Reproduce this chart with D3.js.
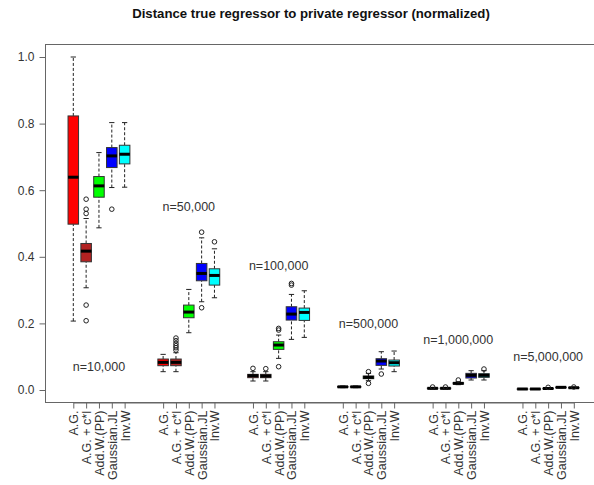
<!DOCTYPE html>
<html>
<head>
<meta charset="utf-8">
<script src="https://cdn.jsdelivr.net/npm/d3@7"></script>
<style>
  body { margin: 0; background: #fff; }
  svg { display: block; font-family: "Liberation Sans", Arial, sans-serif; }
</style>
</head>
<body>
<svg id="chart" width="594" height="485"></svg>
<script>
const methods = ['A.G.', 'A.G. + c*I', 'Add.W.(PP)', 'Gaussian.JL', 'Inv.W'];
const boxColors = ['#ff0000', '#b22222', '#00ff00', '#0000ff', '#00ffff'];
const sampleLabels = ['n=10,000', 'n=50,000', 'n=100,000', 'n=500,000', 'n=1,000,000', 'n=5,000,000'];
const labelValues = [0.07, 0.55, 0.375, 0.2, 0.15, 0.1];
const yTicks = [0, 0.2, 0.4, 0.6, 0.8, 1.0];

// [lower whisker, q1, median, q3, upper whisker] per method
const stats10k = [
  [0.207, 0.498, 0.639, 0.823, 1.0],
  [0.307, 0.385, 0.417, 0.44, 0.515],
  [0.487, 0.579, 0.613, 0.641, 0.713],
  [0.608, 0.668, 0.703, 0.728, 0.803],
  [0.609, 0.679, 0.708, 0.735, 0.803]
];
const outliers10k = [[], [0.573, 0.543, 0.53, 0.255, 0.208], [], [0.543], []];

const stats50k = [
  [0.055, 0.073, 0.083, 0.093, 0.107],
  [0.055, 0.073, 0.083, 0.093, 0.112],
  [0.172, 0.217, 0.234, 0.255, 0.302],
  [0.265, 0.328, 0.35, 0.38, 0.457],
  [0.277, 0.315, 0.344, 0.364, 0.424]
];
const outliers50k = [[], [0.12, 0.127, 0.133, 0.14, 0.148, 0.156], [], [0.474, 0.247], [0.445]];

const stats100k = [
  [0.027, 0.037, 0.043, 0.047, 0.055],
  [0.027, 0.037, 0.042, 0.047, 0.055],
  [0.095, 0.122, 0.135, 0.145, 0.165],
  [0.152, 0.21, 0.228, 0.25, 0.287],
  [0.158, 0.209, 0.233, 0.246, 0.298]
];
const outliers100k = [[0.065], [0.064], [0.18, 0.185, 0.07], [0.315, 0.32], []];

const stats500k = [
  [0.007, 0.0085, 0.0095, 0.0105, 0.012],
  [0.007, 0.0085, 0.0095, 0.0105, 0.012],
  [0.028, 0.034, 0.038, 0.042, 0.05],
  [0.063, 0.074, 0.087, 0.094, 0.115],
  [0.055, 0.072, 0.082, 0.09, 0.117]
];
const outliers500k = [[], [], [0.055, 0.02], [0.048], []];

const stats1m = [
  [0.003, 0.004, 0.005, 0.006, 0.007],
  [0.003, 0.004, 0.005, 0.006, 0.007],
  [0.016, 0.018, 0.02, 0.022, 0.025],
  [0.03, 0.036, 0.044, 0.05, 0.058],
  [0.03, 0.038, 0.044, 0.049, 0.058]
];
const outliers1m = [[0.009], [0.009], [0.03], [], [0.063]];

const stats5m = [
  [0.002, 0.0025, 0.003, 0.0035, 0.004],
  [0.002, 0.0025, 0.003, 0.0035, 0.004],
  [0.003, 0.004, 0.0045, 0.005, 0.006],
  [0.0065, 0.0075, 0.008, 0.0085, 0.009],
  [0.005, 0.006, 0.0068, 0.0075, 0.0085]
];
const outliers5m = [[], [], [0.008], [], [0.009]];

const groupStats = [stats10k, stats50k, stats100k, stats500k, stats1m, stats5m];
const groupOutliers = [outliers10k, outliers50k, outliers100k, outliers500k, outliers1m, outliers5m];

const svg = d3.select('#chart');
const plot = { left: 45, right: 594, top: 44, bottom: 402 };

// positions 1..5, 8..12, ... like boxplot(at=)
const positions = [];
groupStats.forEach((g, gi) => g.forEach((_, i) => positions.push(gi * 7 + i + 1)));

const x = d3.scaleLinear().domain([1, 40]).range([73.3, 573.8]);
const y = d3.scaleLinear().domain([0, 1]).range([390, 57]);
const unit = x(2) - x(1);
const boxW = unit * 0.82;

/* title */
svg.append('text')
  .attr('x', 311)
  .attr('y', 18)
  .attr('text-anchor', 'middle')
  .attr('font-size', 13.2)
  .attr('font-weight', 'bold')
  .attr('fill', '#111')
  .text('Distance true regressor to private regressor (normalized)');

/* frame */
svg.append('rect')
  .attr('x', plot.left + 0.5)
  .attr('y', plot.top + 0.5)
  .attr('width', plot.right - plot.left + 5)
  .attr('height', plot.bottom - plot.top)
  .attr('fill', 'none')
  .attr('stroke', '#666');

/* left axis */
const leftAxis = d3.axisLeft(y).tickValues(yTicks).tickFormat(d3.format('.1f')).tickSize(6).tickPadding(5);
const gy = svg.append('g')
  .attr('transform', `translate(${plot.left + 0.5}, 0)`)
  .call(leftAxis);
gy.select('.domain')
  .attr('stroke', '#666')
  .attr('d', `M0,${y(0)}V${y(1)}`);
gy.selectAll('.tick line').attr('stroke', '#666');
gy.selectAll('.tick text').attr('font-size', 12).attr('fill', '#333').attr('font-family', 'Liberation Sans, Arial, sans-serif');

/* bottom axis */
const bottomAxis = d3.axisBottom(x)
  .tickValues(positions)
  .tickFormat((d, i) => methods[i % methods.length])
  .tickSize(6)
  .tickSizeOuter(0);
const gx = svg.append('g')
  .attr('transform', `translate(0, ${plot.bottom + 0.5})`)
  .call(bottomAxis);
gx.select('.domain').attr('stroke', '#666');
gx.selectAll('.tick line').attr('stroke', '#666');
gx.selectAll('.tick text')
  .attr('font-size', 12.5)
  .attr('fill', '#333')
  .attr('font-family', 'Liberation Sans, Arial, sans-serif')
  .attr('text-anchor', 'end')
  .attr('transform', 'rotate(-90)')
  .attr('x', -8)
  .attr('y', 0)
  .attr('dy', '0.35em');

/* boxes */
const boxes = svg.append('g');
groupStats.forEach(function (group, gi) {
  group.forEach(function (s, i) {
    const cx = x(gi * 7 + i + 1);
    const g = boxes.append('g');

    // whiskers
    g.selectAll('.whisker')
      .data([[s[0], s[1]], [s[3], s[4]]])
      .enter()
      .append('line')
      .attr('x1', cx).attr('x2', cx)
      .attr('y1', d => y(d[0])).attr('y2', d => y(d[1]))
      .attr('stroke', '#222')
      .attr('stroke-dasharray', '3,2');

    g.selectAll('.cap')
      .data([s[0], s[4]])
      .enter()
      .append('line')
      .attr('x1', cx - boxW / 4).attr('x2', cx + boxW / 4)
      .attr('y1', d => y(d)).attr('y2', d => y(d))
      .attr('stroke', '#222');

    g.append('rect')
      .attr('x', cx - boxW / 2)
      .attr('y', y(s[3]))
      .attr('width', boxW)
      .attr('height', Math.max(y(s[1]) - y(s[3]), 0.5))
      .attr('fill', boxColors[i])
      .attr('stroke', '#333');

    g.append('line')
      .attr('x1', cx - boxW / 2).attr('x2', cx + boxW / 2)
      .attr('y1', y(s[2])).attr('y2', y(s[2]))
      .attr('stroke', '#000')
      .attr('stroke-width', 3);

    g.selectAll('.outlier')
      .data(groupOutliers[gi][i])
      .enter()
      .append('circle')
      .attr('cx', cx)
      .attr('cy', d => y(d))
      .attr('r', 2.3)
      .attr('fill', 'none')
      .attr('stroke', '#222');
  });
});

/* sample size labels */
svg.append('g')
  .selectAll('text')
  .data(sampleLabels)
  .enter()
  .append('text')
  .attr('x', (d, i) => x(i * 7 + 3))
  .attr('y', (d, i) => y(labelValues[i]))
  .attr('dy', '0.35em')
  .attr('text-anchor', 'middle')
  .attr('font-size', 12.5)
  .attr('fill', '#333')
  .text(d => d);
</script>
</body>
</html>
